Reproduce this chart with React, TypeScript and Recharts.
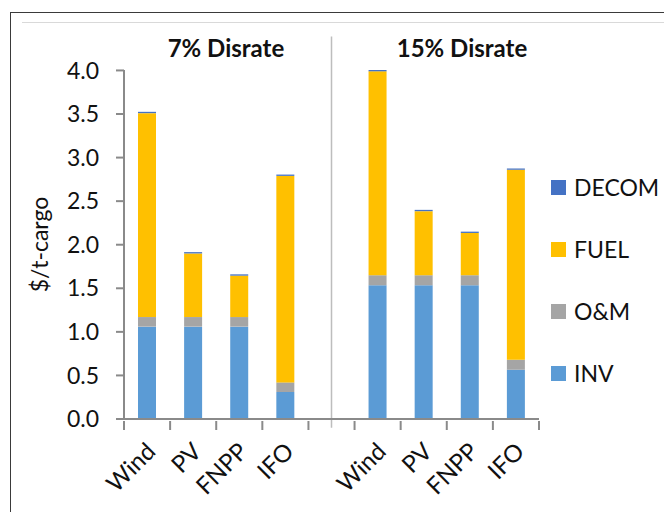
import React from 'react';
import { BarChart, Bar, XAxis, YAxis, ReferenceLine } from 'recharts';

// ids keep the categories unique; 'gap' separates the two discount-rate groups
const categoryIds = ['w7', 'pv7', 'fnpp7', 'ifo7', 'gap', 'w15', 'pv15', 'fnpp15', 'ifo15'];
const categoryLabels = ['Wind', 'PV', 'FNPP', 'IFO', '', 'Wind', 'PV', 'FNPP', 'IFO'];
const inv = [1.06, 1.06, 1.06, 0.31, null, 1.535, 1.535, 1.535, 0.565];
const om = [0.11, 0.11, 0.11, 0.11, null, 0.115, 0.115, 0.115, 0.115];
const fuel = [2.34, 0.73, 0.475, 2.37, null, 2.34, 0.735, 0.485, 2.18];
const decom = [0.015, 0.015, 0.015, 0.015, null, 0.015, 0.015, 0.015, 0.015];
const yTicks = [0, 0.5, 1, 1.5, 2, 2.5, 3, 3.5, 4];
const groupTitles = ['7% Disrate', '15% Disrate'];

const series = [
  { key: 'INV', values: inv, color: '#5B9BD5' },
  { key: 'O&M', values: om, color: '#A5A5A5' },
  { key: 'FUEL', values: fuel, color: '#FFC000' },
  { key: 'DECOM', values: decom, color: '#4472C4' },
];

const data = categoryIds.map((id, i) => {
  const row: Record<string, any> = { id, label: categoryLabels[i] };
  series.forEach((s) => {
    row[s.key] = s.values[i];
  });
  return row;
});

const FONT = 'Lato, "Open Sans", sans-serif';
const AXIS = '#8a8a8a';

const XTick = (props: any) => {
  const { x, y, payload, index } = props;
  const half = payload.offset || 0;
  const label = categoryLabels[index];
  const tx = x + 4;
  const ty = y + 26;
  return (
    <g>
      <line x1={x - half} x2={x - half} y1={y} y2={y + 9} stroke={AXIS} strokeWidth={2} />
      {index === categoryIds.length - 1 && (
        <line x1={x + half} x2={x + half} y1={y} y2={y + 9} stroke={AXIS} strokeWidth={2} />
      )}
      {label && (
        <text
          x={tx}
          y={ty}
          dy="0.35em"
          textAnchor="end"
          transform={`rotate(-45, ${tx}, ${ty})`}
          fontSize={24}
          fontFamily={FONT}
          fill="#111"
        >
          {label}
        </text>
      )}
    </g>
  );
};

const App = () => {
  return (
    <div
      style={{
        position: 'relative',
        width: 672,
        height: 520,
        margin: -8,
        overflow: 'hidden',
        background: '#fff',
        fontFamily: FONT,
      }}
    >
      <div
        style={{
          position: 'absolute',
          left: 10,
          top: 12,
          width: 700,
          height: 600,
          border: '1.5px solid #3a3a3a',
        }}
      />
      <div
        style={{
          position: 'absolute',
          left: 22,
          top: 22,
          width: 660,
          height: 0,
          borderTop: '1px solid #d9d9d9',
        }}
      />
      <BarChart
        width={672}
        height={520}
        data={data}
        margin={{ top: 70, right: 133, left: 0, bottom: 0 }}
        barSize={18}
      >
        <XAxis
          dataKey="id"
          height={101}
          interval={0}
          tickLine={false}
          tickSize={0}
          axisLine={{ stroke: AXIS, strokeWidth: 2 }}
          tick={<XTick />}
        />
        <YAxis
          domain={[0, 4]}
          ticks={yTicks}
          width={124}
          tickSize={8}
          tickMargin={17}
          tickFormatter={(v: number) => v.toFixed(1)}
          axisLine={{ stroke: AXIS, strokeWidth: 2 }}
          tickLine={{ stroke: AXIS, strokeWidth: 2 }}
          tick={{ fontSize: 23, fill: '#111', fontFamily: FONT }}
          label={{
            value: '$/t-cargo',
            angle: -90,
            position: 'center',
            dx: -22,
            style: { fontSize: 23, fill: '#111', fontFamily: FONT },
          }}
        />
        <ReferenceLine
          segment={[
            { x: 'gap', y: 4.39 },
            { x: 'gap', y: -0.1 },
          ]}
          ifOverflow="visible"
          stroke="#bdbdbd"
          strokeWidth={1.5}
        />
        {series.map((s) => (
          <Bar
            key={s.key}
            dataKey={s.key}
            stackId="a"
            fill={s.color}
            isAnimationActive={false}
          />
        ))}
      </BarChart>
      {groupTitles.map((t, i) => (
        <div
          key={t}
          style={{
            position: 'absolute',
            left: i === 0 ? 126 : 362,
            width: 200,
            top: 33,
            textAlign: 'center',
            fontSize: 24,
            fontWeight: 700,
            color: '#111',
            lineHeight: '30px',
          }}
        >
          {t}
        </div>
      ))}
      <div style={{ position: 'absolute', left: 551, top: 156 }}>
        {[...series].reverse().map((s) => (
          <div key={s.key} style={{ display: 'flex', alignItems: 'center', height: 62 }}>
            <span style={{ width: 15, height: 15, background: s.color, marginRight: 8 }} />
            <span style={{ fontSize: 23, color: '#111' }}>{s.key}</span>
          </div>
        ))}
      </div>
    </div>
  );
};

export default App;
